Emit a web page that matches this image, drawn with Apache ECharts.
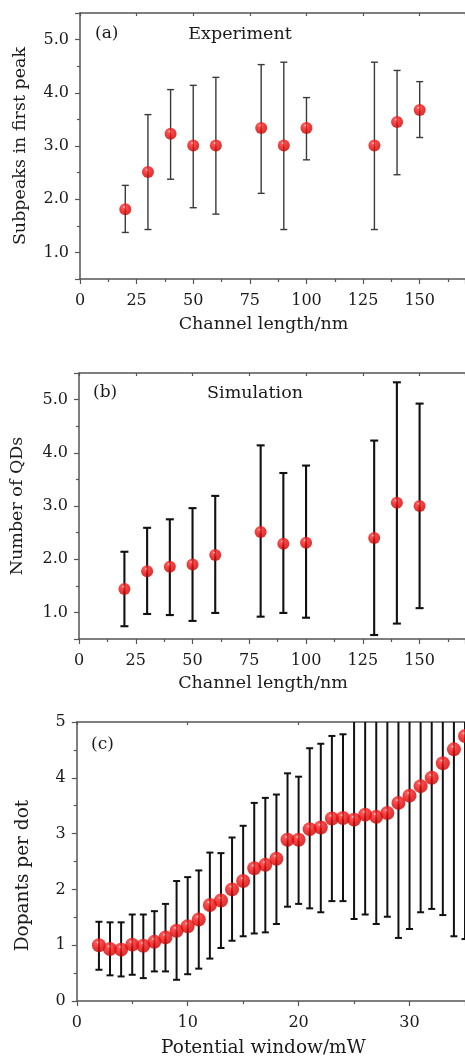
<!DOCTYPE html>
<html><head><meta charset="utf-8">
<script src="https://cdn.jsdelivr.net/npm/echarts@6/dist/echarts.min.js"></script>
<style>html,body{margin:0;padding:0;background:#fff}#c{width:465px;height:1059px}</style>
</head><body><div id="c"></div>
<script>
// Panel (a) Experiment
const aX = [20, 30, 40, 50, 60, 80, 90, 100, 130, 140, 150];
const aMean = [1.81, 2.51, 3.23, 3.01, 3.01, 3.34, 3.01, 3.34, 3.01, 3.45, 3.675];
const aHigh = [2.26, 3.59, 4.06, 4.14, 4.29, 4.53, 4.575, 3.91, 4.575, 4.42, 4.21];
const aLow = [1.375, 1.43, 2.375, 1.84, 1.72, 2.11, 1.43, 2.74, 1.43, 2.46, 3.16];
// Panel (b) Simulation
const bX = [20, 30, 40, 50, 60, 80, 90, 100, 130, 140, 150];
const bMean = [1.44, 1.775, 1.86, 1.9, 2.08, 2.51, 2.29, 2.31, 2.4, 3.06, 3.0];
const bHigh = [2.14, 2.59, 2.75, 2.96, 3.19, 4.14, 3.62, 3.76, 4.23, 5.325, 4.925];
const bLow = [0.74, 0.97, 0.95, 0.84, 0.99, 0.92, 0.99, 0.9, 0.575, 0.79, 1.08];
// Panel (c)
const cX = [2,3,4,5,6,7,8,9,10,11,12,13,14,15,16,17,18,19,20,21,22,23,24,25,26,27,28,29,30,31,32,33,34,35];
const cMean = [1.0,0.93,0.92,1.01,0.99,1.06,1.14,1.26,1.34,1.46,1.72,1.8,2.0,2.15,2.38,2.44,2.55,2.89,2.89,3.08,3.11,3.27,3.28,3.25,3.34,3.3,3.37,3.55,3.68,3.85,4.0,4.26,4.51,4.75];
const cHigh = [1.42,1.41,1.41,1.55,1.55,1.61,1.74,2.15,2.22,2.34,2.66,2.65,2.93,3.14,3.55,3.64,3.70,4.08,4.02,4.53,4.61,4.75,4.78,5.03,5.13,5.22,5.23,5.97,6.07,6.11,6.35,6.98,7.86,8.4];
const cLow = [0.56,0.46,0.44,0.47,0.41,0.53,0.53,0.38,0.48,0.58,0.76,0.95,1.08,1.16,1.21,1.23,1.38,1.69,1.74,1.66,1.59,1.79,1.79,1.47,1.55,1.38,1.51,1.13,1.29,1.59,1.65,1.54,1.16,1.11];

const FONT = 'DejaVu Serif';
const TXT = '#1a1a1a';
const sphere = {
  type: 'radial', x: 0.4, y: 0.3, r: 0.72,
  colorStops: [
    {offset: 0, color: '#ffe0e0'},
    {offset: 0.14, color: '#ff3434'},
    {offset: 0.5, color: '#ee0c0c'},
    {offset: 1, color: '#c20000'}
  ]
};

function errRender(capW, color, lw) {
  return function (params, api) {
    const x = api.value(0), lo = api.value(1), hi = api.value(2);
    const p1 = api.coord([x, lo]);
    const p2 = api.coord([x, hi]);
    const cs = params.coordSys;
    const top = cs.y, bot = cs.y + cs.height;
    const y1 = Math.min(p1[1], bot), y2 = Math.max(p2[1], top);
    const st = {stroke: color, lineWidth: lw};
    const ch = [{type: 'line', shape: {x1: p1[0], y1: y1, x2: p1[0], y2: y2}, style: st}];
    if (p1[1] <= bot) ch.push({type: 'line', shape: {x1: p1[0] - capW / 2, y1: p1[1], x2: p1[0] + capW / 2, y2: p1[1]}, style: st});
    if (p2[1] >= top) ch.push({type: 'line', shape: {x1: p2[0] - capW / 2, y1: p2[1], x2: p2[0] + capW / 2, y2: p2[1]}, style: st});
    return {type: 'group', children: ch};
  };
}

const axisCol = '#555';
function xBottom(gi, min, max, interval, name, gap, pad) {
  return {
    type: 'value', gridIndex: gi, position: 'bottom', min: min, max: max, interval: interval,
    name: name, nameLocation: 'middle', nameGap: gap,
    nameTextStyle: {fontFamily: FONT, fontSize: gi === 2 ? 18.5 : 17.5, color: TXT, padding: pad},
    axisLine: {show: true, onZero: false, lineStyle: {color: axisCol, width: 1.5}},
    axisTick: {show: true, length: 5, lineStyle: {color: axisCol, width: 1.2}},
    minorTick: {show: true, splitNumber: 2, length: 3, lineStyle: {color: axisCol, width: 1.2}},
    axisLabel: {fontFamily: FONT, fontSize: 16, color: TXT, margin: 14, showMaxLabel: false},
    splitLine: {show: false}
  };
}
function xTop(gi, min, max, interval) {
  return {
    type: 'value', gridIndex: gi, position: 'top', min: min, max: max, interval: interval,
    axisLine: {show: true, onZero: false, lineStyle: {color: axisCol, width: 1.5}},
    axisTick: {show: true, inside: true, length: 3, lineStyle: {color: axisCol, width: 1.2}},
    minorTick: {show: false},
    axisLabel: {show: false}, splitLine: {show: false}
  };
}
function yLeft(gi, min, max, name, gap, pad, fmt, fs) {
  return {
    type: 'value', gridIndex: gi, min: min, max: max, splitNumber: 5,
    name: name, nameLocation: 'middle', nameGap: gap,
    nameTextStyle: {fontFamily: FONT, fontSize: fs, color: TXT, padding: pad},
    axisLine: {show: true, onZero: false, lineStyle: {color: axisCol, width: 1.5}},
    axisTick: {show: true, length: 5, lineStyle: {color: axisCol, width: 1.2}},
    minorTick: {show: true, splitNumber: 2, length: 3, lineStyle: {color: axisCol, width: 1.2}},
    axisLabel: {fontFamily: FONT, fontSize: 16, color: TXT, margin: 11, formatter: fmt,
      showMinLabel: gi === 2, showMaxLabel: gi === 2},
    splitLine: {show: false}
  };
}
const fmt1 = v => (Math.abs(v - Math.round(v)) < 1e-6 ? v.toFixed(1) : '');
const fmt0 = v => String(Math.round(v));

const option = {
  animation: false,
  backgroundColor: '#fff',
  grid: [
    {left: 80, top: 13, width: 386, height: 266},
    {left: 79, top: 373, width: 389, height: 266},
    {left: 76.75, top: 722, width: 389.4, height: 284}
  ],
  xAxis: [
    xBottom(0, 0, 170, 25, 'Channel length/nm', 36, [0, 18, 0, 0]),
    xBottom(1, 0, 170, 25, 'Channel length/nm', 35, [0, 18, 0, 0]),
    xBottom(2, 0, 35, 10, 'Potential window/mW', 38, [0, 15, 0, 0]),
    xTop(0, 0, 170, 25), xTop(1, 0, 170, 25), xTop(2, 0, 35, 10)
  ],
  yAxis: [
    yLeft(0, 0.5, 5.5, 'Subpeaks in first peak', 51, [0, 0, 0, 0], fmt1, 17.5),
    yLeft(1, 0.5, 5.5, 'Number of QDs', 53, [0, 0, 0, 0], fmt1, 17.5),
    yLeft(2, 0, 5, 'Dopants per dot', 44, [0, 28, 0, 0], fmt0, 18.5)
  ],
  graphic: [
    {type: 'text', left: 95, top: 25, style: {text: '(a)', font: '17px "DejaVu Serif"', fill: TXT}},
    {type: 'text', x: 240, y: 34, style: {text: 'Experiment', font: '17.5px "DejaVu Serif"', fill: TXT, align: 'center', verticalAlign: 'middle'}},
    {type: 'text', left: 93, top: 384, style: {text: '(b)', font: '17px "DejaVu Serif"', fill: TXT}},
    {type: 'text', x: 255, y: 393, style: {text: 'Simulation', font: '17.5px "DejaVu Serif"', fill: TXT, align: 'center', verticalAlign: 'middle'}},
    {type: 'text', left: 91, top: 736, style: {text: '(c)', font: '17px "DejaVu Serif"', fill: TXT}}
  ],
  series: [
    {type: 'custom', xAxisIndex: 0, yAxisIndex: 0, z: 2, renderItem: errRender(7, '#3a3a3a', 1.4),
      encode: {x: 0, y: [1, 2]}, data: aX.map((x, i) => [x, aLow[i], aHigh[i]])},
    {type: 'scatter', xAxisIndex: 0, yAxisIndex: 0, z: 5, symbolSize: 12,
      itemStyle: {color: sphere}, data: aX.map((x, i) => [x, aMean[i]])},
    {type: 'custom', xAxisIndex: 1, yAxisIndex: 1, z: 2, renderItem: errRender(8, '#111', 2.1),
      encode: {x: 0, y: [1, 2]}, data: bX.map((x, i) => [x, bLow[i], bHigh[i]])},
    {type: 'scatter', xAxisIndex: 1, yAxisIndex: 1, z: 5, symbolSize: 12,
      itemStyle: {color: sphere}, data: bX.map((x, i) => [x, bMean[i]])},
    {type: 'custom', xAxisIndex: 2, yAxisIndex: 2, z: 2, renderItem: errRender(7, '#111', 2.0),
      encode: {x: 0, y: [1, 2]}, data: cX.map((x, i) => [x, cLow[i], cHigh[i]])},
    {type: 'scatter', xAxisIndex: 2, yAxisIndex: 2, z: 5, symbolSize: 14, clip: false,
      itemStyle: {color: sphere}, data: cX.map((x, i) => [x, cMean[i]])}
  ]
};
const chart = echarts.init(document.getElementById('c'), null, {renderer: 'canvas'});
chart.setOption(option);
</script>
</body></html>
